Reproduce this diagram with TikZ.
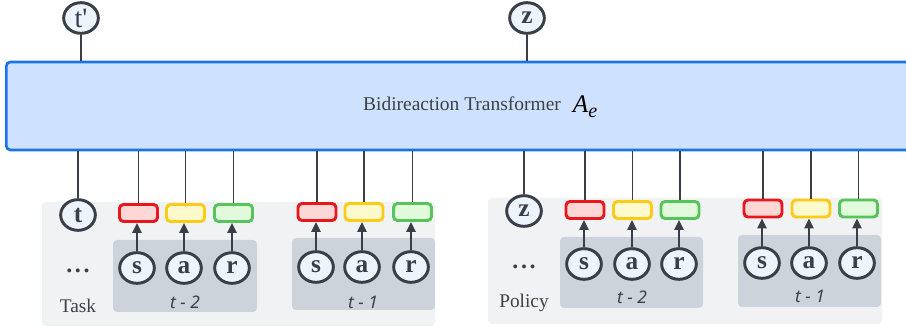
\documentclass[tikz,border=0pt]{standalone}
\usepackage{fontspec}
\setmainfont{Liberation Serif}
\newfontfamily\labelsans{Noto Sans}
\usetikzlibrary{shapes.geometric,arrows.meta}
\definecolor{tfFill}{HTML}{CFE2FD}
\definecolor{tfLine}{HTML}{1A73E8}
\definecolor{panelA}{HTML}{F1F2F4}
\definecolor{panelB}{HTML}{CDD3DB}
\definecolor{circFill}{HTML}{EEF4FD}
\definecolor{ink}{HTML}{3A3E46}
\definecolor{txt}{HTML}{3C4048}
\definecolor{redLine}{HTML}{E8171C}
\definecolor{redFill}{HTML}{FDD6D6}
\definecolor{yelLine}{HTML}{FCCB16}
\definecolor{yelFill}{HTML}{FCF9CD}
\definecolor{grnLine}{HTML}{57C45A}
\definecolor{grnFill}{HTML}{E2FADC}
\begin{document}
\begin{tikzpicture}[x=0.75pt,y=-0.75pt,
  tfbox/.style={draw=tfLine,fill=tfFill,line width=2pt,rounded corners=3pt,
    minimum width=682pt,minimum height=66pt,inner sep=0pt},
  circ/.style={ellipse,draw=ink,fill=circFill,line width=2.2pt,
    minimum width=26pt,minimum height=23pt,inner sep=0pt,text=ink,
    font=\fontsize{19}{19}\selectfont\bfseries},
  tokbox/.style={rectangle,rounded corners=3pt,line width=2.2pt,
    minimum width=28.5pt,minimum height=12.75pt,inner sep=0pt},
  redbox/.style={tokbox,draw=redLine,fill=redFill},
  yelbox/.style={tokbox,draw=yelLine,fill=yelFill},
  grnbox/.style={tokbox,draw=grnLine,fill=grnFill},
  conn/.style={draw=ink,line width=1.3pt},
  arr/.style={draw=ink,line width=1.5pt,-{Triangle[length=7.5pt,width=7pt]}},
  outerpanel/.style={fill=panelA,rounded corners=3pt},
  innerpanel/.style={fill=panelB,rounded corners=3pt},
  steplabel/.style={text=txt,font=\labelsans\itshape\fontsize{13}{13}\selectfont},
  grouplabel/.style={text=txt,font=\fontsize{14.5}{14.5}\selectfont},
  dots/.style={text=ink,font=\fontsize{18}{18}\selectfont\bfseries}]
\useasboundingbox (0,0) rectangle (906,327);
\clip (0,0) rectangle (906,327);
% outer panels
\path[outerpanel] (42,202) rectangle (435,326);
\path[outerpanel] (488,198) rectangle (882,324);
% inner panels with time labels
\foreach \g/\xa/\ya/\xb/\yb/\lx/\ly/\lt in {
  L2/113/240/257/312/185/302/2,
  L1/292/238/435/310/363/302/1,
  R2/560/237/703/308/632/297/2,
  R1/738/235/881/307/810/296/1}{
  \path[innerpanel] (\xa,\ya) rectangle (\xb,\yb);
  \node[steplabel] (lab\g) at (\lx,\ly) {t - \lt};
}
% transformer
\node[tfbox] (tf) at (461,106) {};
\node[text=txt,font=\fontsize{14.6}{14.6}\selectfont] (tflabel) at (462,104) {Bidireaction Transformer};
\node[text=black,font=\fontsize{19}{19}\selectfont\itshape,inner sep=0pt] (ae) at (585,107) {A\raisebox{-3.5pt}{\fontsize{15}{15}\selectfont e}};
% top inputs
\node[circ,font=\fontsize{21}{21}\selectfont] (tp) at (81,18) {t\textquotesingle};
\node[circ] (ztop) at (527,18) {z};
\draw[conn] (tp.south) -- (tp.south |- tf.north);
\draw[conn] (ztop.south) -- (ztop.south |- tf.north);
% bottom task / policy
\node[circ] (tb) at (78,215) {t};
\node[circ] (zb) at (524,211) {z};
\draw[conn] (tf.south -| tb.north) -- (tb.north);
\draw[conn] (tf.south -| zb.north) -- (zb.north);
\node[dots] (dotsL) at (78,271) {.\hspace{2pt}.\hspace{2pt}.};
\node[dots] (dotsR) at (524,267) {.\hspace{2pt}.\hspace{2pt}.};
\node[grouplabel] (task) at (78,306) {Task};
\node[grouplabel] (policy) at (524,303) {Policy};
% token groups
\foreach \g/\xs/\xa/\xr/\cy/\bs/\ba/\br/\by in {
  L2/137/184/232/268/138.5/185.5/233.5/213,
  L1/316/362/411/267/317/364/412.5/212,
  R2/584/632/679/264/585/632.5/680/210,
  R1/762/809/857/263/763/811/858.5/208.5}{
  \node[circ] (s\g) at (\xs,\cy) {s};
  \node[circ] (a\g) at (\xa,\cy) {a};
  \node[circ] (r\g) at (\xr,\cy) {r};
  \node[redbox] (bs\g) at (\bs,\by) {};
  \node[yelbox] (ba\g) at (\ba,\by) {};
  \node[grnbox] (br\g) at (\br,\by) {};
  \draw[arr] (s\g.north) -- (s\g.north |- bs\g.south);
  \draw[arr] (a\g.north) -- (a\g.north |- ba\g.south);
  \draw[arr] (r\g.north) -- (r\g.north |- br\g.south);
  \draw[conn] (tf.south -| bs\g.north) -- (bs\g.north);
  \draw[conn] (tf.south -| ba\g.north) -- (ba\g.north);
  \draw[conn] (tf.south -| br\g.north) -- (br\g.north);
}
\end{tikzpicture}
\end{document}
